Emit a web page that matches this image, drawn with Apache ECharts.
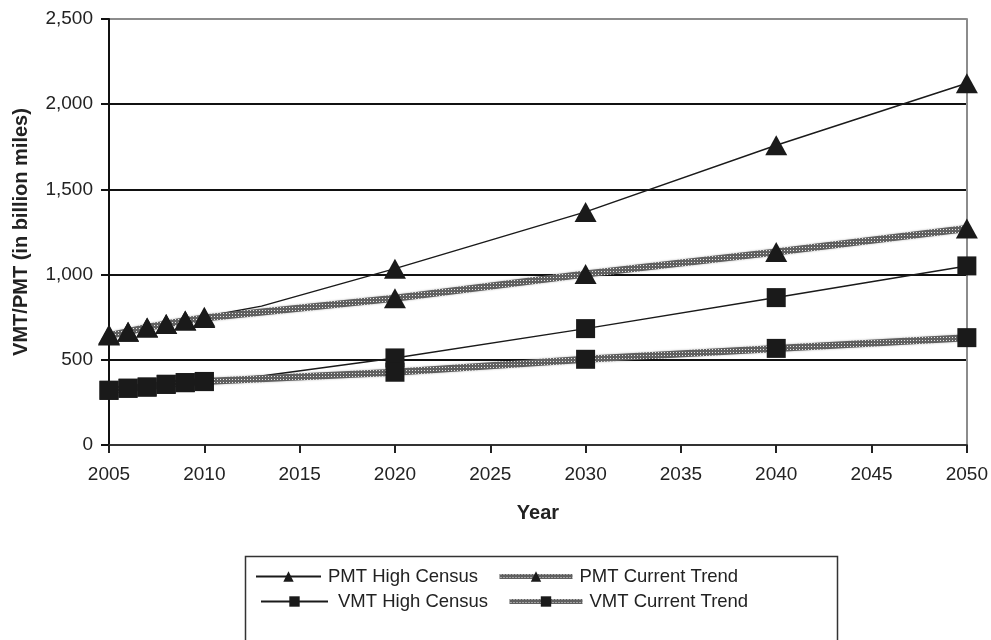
<!DOCTYPE html>
<html>
<head>
<meta charset="utf-8">
<script src="https://cdn.jsdelivr.net/npm/echarts@6/dist/echarts.min.js"></script>
<style>
  html, body { margin: 0; padding: 0; background: #fff; }
  #chart { width: 991px; height: 640px; }
</style>
</head>
<body>
<div id="chart"></div>
<script>
// Years with reported / projected values
const years = [2005, 2006, 2007, 2008, 2009, 2010, 2020, 2030, 2040, 2050];

// Passenger miles travelled (billion miles)
const pmtHigh  = [648, 665, 690, 710, 730, 752, 1035, 1368, 1759, 2123];
const pmtTrend = [642, 665, 690, 710, 730, 745, 861, 1003, 1133, 1270];

// Vehicle miles travelled (billion miles)
const vmtHigh  = [321, 333, 340, 356, 366, 373, 511, 683, 865, 1051];
const vmtTrend = [321, 333, 340, 356, 366, 372, 427, 503, 567, 630];

// Unmarked annual estimate on the high-census paths
const interimYear = 2013;
const pmtHighInterim = 815;
const vmtHighInterim = 405;

const xTicks = { min: 2005, max: 2050, step: 5 };
const yTicks = { min: 0, max: 2500, step: 500 };

const seriesNames = ['PMT High Census', 'PMT Current Trend', 'VMT High Census', 'VMT Current Trend'];

// Build [year, value] pairs, optionally inserting an unmarked interim point
function pairs(values, extraYear, extraValue) {
  const out = [];
  years.forEach((y, i) => {
    out.push([y, values[i]]);
    if (extraYear !== undefined && y < extraYear && years[i + 1] > extraYear) {
      out.push({ value: [extraYear, extraValue], symbol: 'none' });
    }
  });
  return out;
}

// Textured grey band used for the trend lines
const pc = document.createElement('canvas');
pc.width = 3; pc.height = 3;
const g = pc.getContext('2d');
g.fillStyle = '#606060';
g.fillRect(0, 0, 3, 3);
g.fillStyle = '#e6e6e6';
g.fillRect(1, 1, 1, 1);
const bandPattern = { image: pc, repeat: 'repeat' };

const FONT = '"Liberation Sans", Arial, Helvetica, sans-serif';
const INK = '#1a1a1a';

function solidSeries(name, symbol, size, data) {
  return {
    name, type: 'line', data, symbol, symbolSize: size,
    itemStyle: { color: INK },
    lineStyle: { color: INK, width: 1.5 },
    emphasis: { disabled: true },
    animation: false
  };
}
function bandSeries(name, symbol, size, data) {
  return {
    name, type: 'line', data, symbol, symbolSize: size,
    itemStyle: { color: INK },
    lineStyle: { color: bandPattern, width: 7, shadowBlur: 2, shadowColor: 'rgba(0,0,0,0.25)' },
    emphasis: { disabled: true },
    animation: false
  };
}

function legendAt(name, left, top, iconWidth, textPad, band) {
  const lg = {
    data: [name], left, top, padding: 0,
    itemWidth: iconWidth, itemHeight: 13, itemGap: 0,
    textStyle: { fontFamily: FONT, fontSize: 18.5, color: '#222', padding: [0, 0, 0, textPad] },
    selectedMode: false
  };
  if (band) lg.lineStyle = { width: 5 };
  return lg;
}

const chart = echarts.init(document.getElementById('chart'), null, { renderer: 'canvas' });

chart.setOption({
  backgroundColor: '#fff',
  animation: false,
  grid: { left: 109, right: 24, top: 19, bottom: 195, containLabel: false },
  xAxis: {
    type: 'value', min: xTicks.min, max: xTicks.max, interval: xTicks.step,
    name: 'Year', nameLocation: 'middle', nameGap: 58,
    nameTextStyle: { fontFamily: FONT, fontSize: 20, fontWeight: 'bold', color: '#222' },
    axisLine: { lineStyle: { color: '#333', width: 2 } },
    axisTick: { show: true, length: 8, lineStyle: { color: '#222', width: 2 } },
    axisLabel: { fontFamily: FONT, fontSize: 19, color: '#222', margin: 20, formatter: v => String(v) },
    splitLine: { show: false }
  },
  yAxis: [{
    type: 'value', min: yTicks.min, max: yTicks.max, interval: yTicks.step,
    name: 'VMT/PMT (in billion miles)', nameLocation: 'middle', nameGap: 78, nameRotate: 90,
    nameTextStyle: { fontFamily: FONT, fontSize: 20, fontWeight: 'bold', color: '#222' },
    axisLine: { show: true, lineStyle: { color: '#111', width: 2 } },
    axisTick: { show: true, length: 8, lineStyle: { color: '#111', width: 2 } },
    axisLabel: {
      fontFamily: FONT, fontSize: 19, color: '#222', margin: 16,
      formatter: v => v.toLocaleString('en-US')
    },
    splitLine: { show: true, lineStyle: { color: ['#111', '#111', '#111', '#111', '#111', '#8c8c8c'], width: 2 } }
  }, {
    type: 'value', min: yTicks.min, max: yTicks.max, interval: yTicks.step, position: 'right',
    axisLine: { show: true, lineStyle: { color: '#8c8c8c', width: 2 } },
    axisTick: { show: false }, axisLabel: { show: false }, splitLine: { show: false }
  }],
  legend: [
    legendAt(seriesNames[0], 255, 567, 65, 2, false),
    legendAt(seriesNames[1], 497, 567, 73, 2, true),
    legendAt(seriesNames[2], 260, 592, 67, 5, false),
    legendAt(seriesNames[3], 507, 592, 73, 2, true)
  ],
  graphic: [{
    type: 'rect', left: 243, top: 554, silent: true,
    shape: { width: 592, height: 100 },
    style: { fill: 'none', stroke: '#333', lineWidth: 1.5 }
  }],
  series: [
    solidSeries(seriesNames[0], 'triangle', [22, 20], pairs(pmtHigh, interimYear, pmtHighInterim)),
    bandSeries(seriesNames[1], 'triangle', [22, 20], pairs(pmtTrend)),
    solidSeries(seriesNames[2], 'rect', 19, pairs(vmtHigh, interimYear, vmtHighInterim)),
    bandSeries(seriesNames[3], 'rect', 19, pairs(vmtTrend))
  ]
});
</script>
</body>
</html>
